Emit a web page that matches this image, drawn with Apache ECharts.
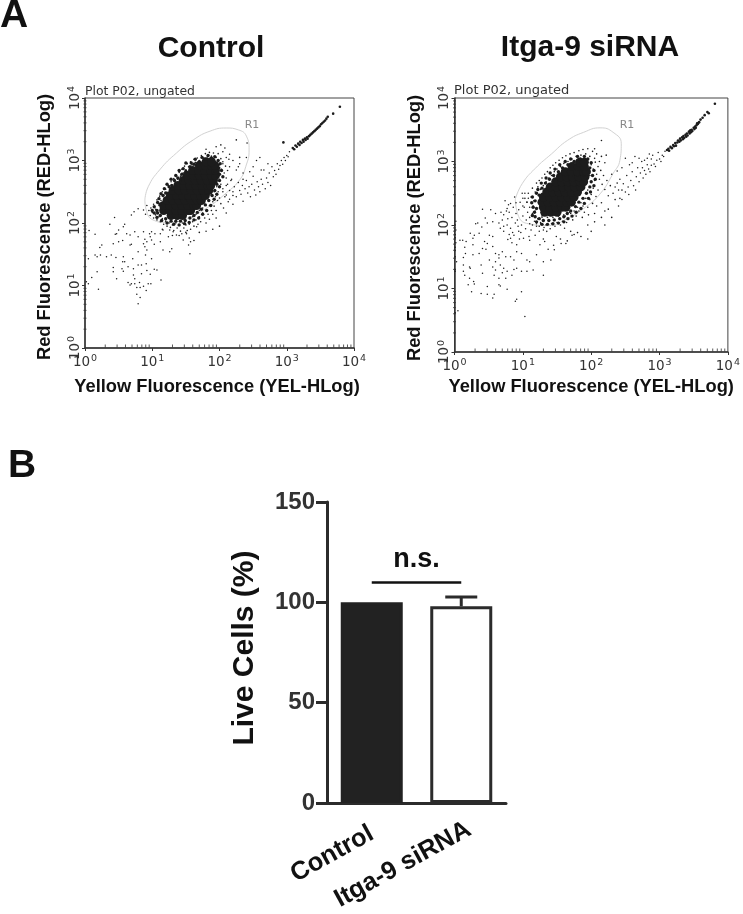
<!DOCTYPE html>
<html><head><meta charset="utf-8">
<style>html,body{margin:0;padding:0;background:#fff}#c{width:743px;height:914px}</style>
<script src="https://cdn.jsdelivr.net/npm/echarts@6/dist/echarts.min.js"></script>
</head><body><div id="c"></div>
<script>
const decades = [0, 1, 2, 3, 4];
const minorTicks = [2,3,4,5,6,7,8,9,20,30,40,50,60,70,80,90,200,300,400,500,600,700,800,900,2000,3000,4000,5000,6000,7000,8000,9000];

const controlGate = [[.89,2.37],[.94,2.58],[1.11,2.85],[1.36,3.12],[1.61,3.33],[1.86,3.47],[2.10,3.52],[2.28,3.49],[2.40,3.39],[2.44,3.17],[2.39,2.90],[2.30,2.69],[2.10,2.48],[1.81,2.24],[1.51,2.07],[1.21,2.01],[1.01,2.05],[.91,2.21],[.89,2.37]];
const sirnaGate = [[.89,2.41],[.99,2.65],[1.18,2.89],[1.42,3.12],[1.65,3.33],[1.89,3.46],[2.13,3.53],[2.32,3.46],[2.44,3.28],[2.42,3.02],[2.32,2.81],[2.13,2.49],[1.89,2.26],[1.65,2.10],[1.37,1.99],[1.08,2.02],[.94,2.13],[.89,2.41]];

// Dense centre of each population (too dense to separate single events)
const controlCore = [[1.28,2.12],[1.37,2.12],[1.45,2.12],[1.17,2.2],[1.26,2.2],[1.35,2.2],[1.44,2.2],[1.53,2.2],[1.57,2.2],[1.17,2.28],[1.26,2.28],[1.35,2.28],[1.44,2.28],[1.53,2.28],[1.62,2.28],[1.66,2.28],[1.22,2.36],[1.31,2.36],[1.4,2.36],[1.49,2.36],[1.58,2.36],[1.67,2.36],[1.73,2.36],[1.27,2.44],[1.36,2.44],[1.45,2.44],[1.54,2.44],[1.63,2.44],[1.72,2.44],[1.79,2.44],[1.31,2.52],[1.4,2.52],[1.49,2.52],[1.58,2.52],[1.67,2.52],[1.76,2.52],[1.84,2.52],[1.38,2.6],[1.47,2.6],[1.56,2.6],[1.65,2.6],[1.74,2.6],[1.83,2.6],[1.87,2.6],[1.46,2.68],[1.55,2.68],[1.64,2.68],[1.73,2.68],[1.82,2.68],[1.91,2.68],[1.52,2.76],[1.61,2.76],[1.7,2.76],[1.79,2.76],[1.88,2.76],[1.94,2.76],[1.6,2.84],[1.69,2.84],[1.78,2.84],[1.87,2.84],[1.94,2.84],[1.7,2.92],[1.79,2.92],[1.88,2.92],[1.93,2.92],[1.8,2.98],[1.88,2.98]];
const sirnaCore = [[1.32,2.2],[1.41,2.2],[1.5,2.2],[1.3,2.28],[1.39,2.28],[1.48,2.28],[1.57,2.28],[1.63,2.28],[1.28,2.36],[1.37,2.36],[1.46,2.36],[1.55,2.36],[1.64,2.36],[1.71,2.36],[1.3,2.44],[1.39,2.44],[1.48,2.44],[1.57,2.44],[1.66,2.44],[1.75,2.44],[1.35,2.52],[1.44,2.52],[1.53,2.52],[1.62,2.52],[1.71,2.52],[1.8,2.52],[1.4,2.6],[1.49,2.6],[1.58,2.6],[1.67,2.6],[1.76,2.6],[1.85,2.6],[1.48,2.68],[1.57,2.68],[1.66,2.68],[1.75,2.68],[1.84,2.68],[1.89,2.68],[1.55,2.76],[1.64,2.76],[1.73,2.76],[1.82,2.76],[1.91,2.76],[1.62,2.84],[1.71,2.84],[1.8,2.84],[1.89,2.84],[1.93,2.84],[1.72,2.92],[1.81,2.92],[1.9,2.92],[1.83,2.99],[1.9,2.99]];
// Crowded edge of the centre
const controlRim = [[1.07,2.2],[1.03,2.26],[1.08,2.33],[1.12,2.3],[1.1,2.39],[1.16,2.44],[1.13,2.47],[1.2,2.48],[1.18,2.55],[1.25,2.58],[1.22,2.62],[1.29,2.6],[1.28,2.7],[1.33,2.68],[1.35,2.76],[1.38,2.72],[1.4,2.84],[1.44,2.78],[1.46,2.87],[1.5,2.83],[1.5,2.96],[1.56,2.9],[1.58,2.96],[1.62,2.94],[1.64,3.02],[1.7,2.98],[1.74,3.05],[1.78,3.02],[1.83,3.08],[1.88,3.04],[1.93,3.06],[1.98,3.0],[2.01,2.95],[1.99,2.88],[2.03,2.84],[2.0,2.78],[2.05,2.74],[2.0,2.68],[1.96,2.62],[2.0,2.58],[1.93,2.52],[1.96,2.46],[1.89,2.44],[1.92,2.38],[1.84,2.36],[1.87,2.28],[1.79,2.29],[1.81,2.2],[1.73,2.22],[1.75,2.14],[1.67,2.17],[1.69,2.08],[1.62,2.12],[1.62,2.05],[1.56,2.08],[1.55,2.01],[1.49,2.04],[1.48,1.99],[1.42,2.03],[1.4,1.97],[1.35,2.03],[1.32,1.98],[1.28,2.03],[1.22,2.0],[1.2,2.07],[1.14,2.04],[1.12,2.12],[1.07,2.09],[1.08,2.16],[1.03,2.16],[1.0,2.2]];
const sirnaRim = [[1.17,2.2],[1.15,2.28],[1.2,2.26],[1.13,2.35],[1.18,2.38],[1.14,2.44],[1.2,2.5],[1.24,2.47],[1.22,2.56],[1.28,2.58],[1.27,2.66],[1.33,2.66],[1.34,2.74],[1.39,2.72],[1.4,2.82],[1.45,2.78],[1.47,2.88],[1.52,2.84],[1.54,2.95],[1.58,2.9],[1.62,3.0],[1.66,2.95],[1.7,3.04],[1.75,3.0],[1.8,3.08],[1.84,3.04],[1.9,3.08],[1.95,3.04],[2.0,2.98],[1.98,2.9],[2.04,2.86],[2.02,2.78],[2.06,2.72],[2.0,2.68],[2.04,2.62],[1.98,2.6],[1.99,2.52],[1.93,2.5],[1.96,2.42],[1.88,2.42],[1.9,2.34],[1.82,2.36],[1.85,2.26],[1.77,2.29],[1.78,2.2],[1.7,2.22],[1.72,2.14],[1.65,2.18],[1.66,2.1],[1.6,2.13],[1.6,2.05],[1.54,2.1],[1.52,2.03],[1.46,2.08],[1.44,2.02],[1.38,2.07],[1.36,2.01],[1.3,2.07],[1.28,2.01],[1.24,2.1],[1.2,2.05],[1.18,2.13],[1.14,2.15]];

// Single events around the centre, lower-left cloud, tail, diagonal
const controlFringe = [[.98,2.24],[1.02,2.3],[1.05,2.22],[1.07,2.37],[1.09,2.31],[1.11,2.43],[1.13,2.36],[1.15,2.5],[1.17,2.45],[1.2,2.54],[1.22,2.49],[1.24,2.6],[1.26,2.54],[1.28,2.66],[1.3,2.6],[1.32,2.71],[1.34,2.66],[1.36,2.76],[1.38,2.7],[1.4,2.81],[1.42,2.75],[1.44,2.86],[1.46,2.8],[1.48,2.91],[1.5,2.85],[1.52,2.95],[1.54,2.9],[1.57,2.98],[1.59,2.93],[1.62,3.02],[1.64,2.97],[1.67,3.04],[1.7,3.0],[1.73,3.08],[1.76,3.04],[1.79,3.11],[1.82,3.06],[1.85,3.13],[1.88,3.07],[1.91,3.12],[1.95,3.05],[1.98,3.11],[2.02,3.03],[2.05,3.14],[1.1,2.28],[1.18,2.39],[1.23,2.44],[1.3,2.53],[1.35,2.6],[1.43,2.68],[1.47,2.74],[1.53,2.82],[1.58,2.87],[1.65,2.92],[1.72,2.96],[1.8,3.03],[2.0,2.93],[2.03,2.86],[2.05,2.98],[2.07,2.8],[2.09,2.91],[2.1,2.72],[2.12,2.84],[2.14,3.02],[1.98,2.78],[2.0,2.7],[2.02,2.62],[1.96,2.58],[1.98,2.5],[1.94,2.42],[1.97,2.36],[1.9,2.34],[1.92,2.27],[1.85,2.28],[1.88,2.2],[1.8,2.2],[1.83,2.14],[1.75,2.16],[1.78,2.08],[1.7,2.1],[1.72,2.02],[1.65,2.05],[1.68,1.98],[1.6,2.02],[1.62,1.95],[1.55,1.98],[1.57,1.9],[1.5,1.97],[1.52,1.88],[1.45,2.0],[1.47,1.92],[1.4,1.96],[1.42,1.87],[1.35,2.0],[1.37,1.92],[1.3,1.97],[1.32,1.88],[1.25,2.0],[1.27,1.93],[1.2,2.03],[1.22,1.95],[1.15,2.07],[1.17,1.98],[1.1,2.1],[1.12,2.02],[1.05,2.13],[1.07,2.05],[1.0,2.17],[1.02,2.08],[.95,2.2],[.97,2.12],[.92,2.28],[.9,2.14],[2.05,2.5],[2.08,2.42],[2.1,2.6],[2.13,2.34],[2.15,2.52],[2.0,2.4],[2.02,2.31],[2.06,2.24],[2.1,2.16],[1.95,2.2],[1.9,2.14],[1.85,2.06],[1.8,2.0],[1.95,2.08],[2.17,2.68],[2.2,2.44],[2.2,2.3],[1.92,2.5],[1.94,2.66],[1.88,2.44],[1.84,2.36],[1.82,2.46],[1.78,2.3],[1.75,2.24],[1.7,2.2],[1.65,2.14],[1.6,2.1],[1.96,2.74],[1.92,2.82],[1.3,1.8],[1.4,1.8],[1.55,1.76],[1.62,1.72],[1.7,1.85],[1.9,1.9],[2.0,1.95],[1.5,1.85],[1.15,1.9],[2.25,3.33],[2.08,3.2],[1.95,3.22],[1.8,3.18],[2.02,3.25],[2.41,3.28],[2.15,3.1],[2.2,3.0],[2.3,3.05],[2.28,2.9],[2.35,2.7]];
const controlCloud = [[.44,2.09],[.69,2.13],[.73,2.18],[.79,2.23],[.87,2.21],[.37,1.98],[.59,1.98],[.57,1.94],[.15,1.82],[.06,1.88],[.45,1.82],[.50,1.89],[.47,1.83],[.62,1.83],[.67,1.81],[.74,1.86],[.87,1.86],[.96,1.83],[.22,1.61],[.25,1.65],[.42,1.67],[.50,1.70],[.56,1.72],[.69,1.66],[.67,1.65],[.89,1.74],[.97,1.78],[1.04,1.83],[.15,1.49],[.18,1.46],[.23,1.49],[.32,1.46],[.39,1.49],[.46,1.45],[.05,1.43],[.57,1.46],[.71,1.43],[.59,1.38],[.56,1.38],[.79,1.54],[.92,1.57],[.90,1.49],[.99,1.43],[1.16,1.57],[1.29,1.59],[1.26,1.54],[1.46,1.73],[1.57,1.70],[1.54,1.65],[1.56,1.51],[.42,1.29],[.42,1.22],[.55,1.27],[.57,1.23],[.64,1.30],[.72,1.27],[.79,1.33],[.84,1.33],[.91,1.35],[1.03,1.26],[1.07,1.25],[.18,1.22],[.10,1.13],[.47,1.11],[.74,1.11],[.72,1.17],[.84,1.19],[.92,1.24],[.97,1.18],[1.13,1.09],[.64,1.05],[.67,1.01],[.69,1.03],[.74,1.03],[.81,1.05],[.94,1.03],[.98,1.03],[.87,.99],[.20,.94],[.02,1.06],[.05,1.03],[.77,.97],[.82,.97],[.91,.92],[.77,.86],[.82,.81],[.79,.71],[1.80,1.87],[1.66,1.94],[1.51,1.83],[1.44,1.83],[1.24,1.78],[1.12,1.83],[1.16,1.89],[1.26,1.89],[1.36,1.81],[.99,1.73],[.87,1.67],[.89,1.62],[.92,1.70],[1.03,1.66],[1.12,1.70],[.79,1.78],[.99,1.86],[1.31,1.86]];
const controlTail = [[2.05,2.55],[2.1,2.45],[2.12,2.62],[2.15,2.38],[2.18,2.7],[2.2,2.5],[2.22,2.58],[2.25,2.42],[2.28,2.65],[2.3,2.52],[2.32,2.46],[2.34,2.6],[2.35,2.35],[2.38,2.55],[2.4,2.68],[2.42,2.48],[2.44,2.58],[2.46,2.42],[2.48,2.62],[2.5,2.75],[2.52,2.53],[2.54,2.45],[2.56,2.66],[2.58,2.58],[2.6,2.5],[2.62,2.7],[2.64,2.62],[2.66,2.85],[2.68,2.55],[2.7,2.72],[2.72,2.65],[2.74,2.8],[2.76,2.6],[2.78,2.9],[2.8,2.74],[2.82,2.84],[2.84,2.78],[2.86,2.95],[2.88,2.86],[2.9,2.92],[2.92,3.0],[2.94,2.94],[2.96,3.05],[2.98,3.0],[3.0,3.08],[3.02,3.06],[3.04,3.14],[2.5,2.9],[2.55,3.0],[2.62,2.85],[2.72,2.95],[2.6,3.05],[2.45,2.82],[2.35,2.8],[2.3,2.95],[2.25,2.85],[2.15,2.9],[2.4,3.05],[2.1,3.05],[2.05,2.95]];
const controlDiagonal = [[3.09,3.2],[3.11,3.18],[3.13,3.24],[3.15,3.22],[3.17,3.27],[3.19,3.25],[3.2,3.3],[3.22,3.28],[3.24,3.33],[3.25,3.3],[3.27,3.35],[3.28,3.33],[3.3,3.37],[3.31,3.35],[3.33,3.39],[3.35,3.41],[3.37,3.43],[3.39,3.45],[3.41,3.47],[3.43,3.49],[3.45,3.51],[3.47,3.53],[3.49,3.55],[3.51,3.58],[3.53,3.6],[3.55,3.62],[3.57,3.64],[3.59,3.67],[3.61,3.7],[3.69,3.75],[3.79,3.86],[2.95,3.29]];

const sirnaFringe = [[1.0,2.3],[1.03,2.42],[1.06,2.36],[1.08,2.5],[1.1,2.28],[1.12,2.44],[1.14,2.58],[1.16,2.38],[1.18,2.52],[1.2,2.66],[1.22,2.6],[1.24,2.7],[1.26,2.56],[1.28,2.74],[1.3,2.62],[1.32,2.8],[1.34,2.68],[1.36,2.84],[1.38,2.74],[1.4,2.9],[1.42,2.78],[1.44,2.94],[1.46,2.84],[1.48,2.98],[1.5,2.88],[1.53,3.02],[1.55,2.92],[1.58,3.06],[1.6,2.97],[1.63,3.09],[1.66,3.0],[1.69,3.12],[1.72,3.04],[1.75,3.14],[1.78,3.08],[1.82,3.17],[1.85,3.1],[1.88,3.19],[1.92,3.12],[1.95,3.2],[1.98,3.08],[2.02,3.16],[2.05,3.05],[2.08,3.12],[2.12,3.0],[2.15,3.08],[2.2,2.98],[2.22,3.1],[2.0,2.95],[2.03,2.88],[2.06,2.99],[2.08,2.8],[2.1,2.92],[2.12,2.72],[2.14,2.86],[2.16,2.64],[2.18,2.78],[2.2,2.56],[2.23,2.7],[2.25,2.46],[2.28,2.62],[2.3,2.8],[2.32,2.5],[2.35,2.4],[2.38,2.66],[2.4,2.3],[1.98,2.78],[2.0,2.68],[2.03,2.58],[2.05,2.7],[2.0,2.48],[2.07,2.45],[2.1,2.55],[1.95,2.55],[1.98,2.4],[2.02,2.34],[2.08,2.3],[2.15,2.35],[2.2,2.22],[1.92,2.42],[1.95,2.28],[1.9,2.2],[1.96,2.16],[2.05,2.18],[1.88,2.3],[1.85,2.35],[1.82,2.22],[1.87,2.12],[1.78,2.14],[1.8,2.28],[1.75,2.22],[1.7,2.18],[1.73,2.08],[1.66,2.1],[1.68,2.2],[1.62,2.14],[1.64,2.04],[1.58,2.06],[1.6,2.16],[1.54,2.1],[1.55,2.0],[1.5,2.04],[1.52,2.14],[1.46,2.07],[1.47,1.98],[1.42,2.02],[1.44,2.12],[1.38,2.06],[1.4,1.94],[1.34,2.0],[1.36,2.12],[1.3,2.06],[1.31,1.96],[1.26,2.04],[1.28,2.14],[1.22,2.1],[1.24,1.98],[1.18,2.14],[1.2,2.02],[1.14,2.18],[1.16,2.28],[1.1,2.12],[1.8,1.88],[1.85,1.82],[1.95,1.78],[1.75,1.85],[1.65,1.75],[1.7,1.9],[1.55,1.78],[1.45,1.68],[1.35,1.9],[1.3,1.78],[1.95,2.0],[2.05,2.05],[2.0,1.9],[2.2,2.0],[2.15,2.12],[2.3,2.12],[2.25,2.25],[2.42,2.42],[2.45,2.55],[2.15,3.33],[2.05,3.2]];
const sirnaCloud = [[.08,1.76],[.12,1.76],[.15,1.65],[.23,1.87],[.17,1.74],[.27,1.69],[.31,2.02],[.34,2.03],[.41,2.25],[.53,2.24],[.45,2.11],[.48,2.03],[.56,2.05],[.60,2.18],[.40,1.97],[.36,1.87],[.29,1.84],[.27,1.79],[.44,1.74],[.48,1.71],[.51,1.84],[.56,1.82],[.65,2.03],[.70,2.08],[.72,2.16],[.77,2.26],[.79,2.32],[.67,1.95],[.72,1.90],[.77,2.00],[.82,1.95],[.89,2.03],[.94,1.90],[.87,1.84],[.82,1.79],[.78,1.77],[.84,1.72],[.91,1.69],[1.01,1.79],[1.10,1.76],[1.18,1.84],[1.32,1.74],[1.37,1.62],[1.25,1.69],[1.20,1.53],[.56,1.66],[.41,1.63],[.46,1.62],[.36,1.55],[.27,1.53],[.60,1.55],[.65,1.53],[.70,1.58],[.75,1.50],[.82,1.50],[.91,1.58],[.98,1.55],[1.06,1.45],[1.10,1.42],[.87,1.45],[.13,1.49],[.13,1.37],[.03,1.42],[.01,1.27],[.16,1.55],[.39,1.37],[.51,1.45],[.60,1.42],[.65,1.48],[.56,1.34],[.60,1.29],[.67,1.37],[.72,1.32],[.77,1.27],[.87,1.30],[.91,1.32],[.98,1.27],[1.06,1.27],[1.15,1.29],[1.30,1.21],[1.30,1.42],[1.41,1.45],[.13,1.27],[.15,1.21],[.22,1.34],[.23,1.32],[.41,1.24],[.58,1.21],[.65,1.16],[.70,1.25],[.84,1.21],[.75,1.16],[.65,1.06],[.67,1.04],[.48,1.03],[.28,1.11],[.29,1.07],[.20,1.06],[.22,1.16],[.25,.95],[.39,.92],[.48,.91],[.58,.91],[.56,.85],[.77,.99],[.98,.95],[.91,.83],[.89,.80],[.05,.65],[.01,.62],[1.03,.56],[1.46,1.61],[1.56,1.71],[1.63,1.71],[1.72,1.84],[1.61,1.95],[1.49,1.82],[.01,1.5],[.01,1.6],[.02,1.72],[.01,1.8],[.01,1.85],[.02,1.92],[.01,2.0],[.02,2.06],[.01,1.65],[.01,1.3],[.74,2.38],[.8,2.2],[.84,2.12],[.86,2.28],[.9,2.18],[.92,2.08],[.94,2.24],[.96,2.36],[.98,2.0],[1.0,2.14],[1.02,2.28],[1.04,1.94],[1.05,2.08],[1.07,2.2],[1.08,2.42],[1.1,2.02],[1.12,1.92],[1.13,2.14],[1.15,2.3],[1.17,2.06],[1.18,2.22],[1.2,1.98],[1.22,2.1],[.78,2.1],[.82,2.34],[.88,2.44],[.93,1.98],[.97,1.88],[1.0,2.42],[1.03,2.5],[1.06,2.36],[.99,2.5],[.9,2.35],[.95,1.78],[.85,1.88],[.8,1.85],[.72,1.98],[.68,2.2],[.76,2.22],[1.09,1.82],[1.14,2.0],[1.24,1.9],[1.26,2.02],[1.28,2.12],[1.3,1.92]];
const sirnaTail = [[2.35,2.6],[2.38,2.85],[2.4,2.55],[2.42,2.72],[2.45,2.9],[2.47,2.65],[2.5,2.52],[2.52,2.78],[2.54,2.6],[2.56,2.95],[2.58,2.7],[2.6,2.84],[2.62,2.62],[2.64,3.08],[2.66,2.76],[2.68,2.9],[2.7,2.68],[2.72,2.82],[2.74,3.0],[2.76,2.74],[2.78,2.86],[2.8,2.8],[2.82,3.05],[2.84,2.88],[2.86,2.84],[2.88,2.94],[2.9,3.1],[2.92,2.96],[2.94,2.92],[2.96,3.02],[2.98,3.14],[3.0,3.04],[3.02,3.0],[3.04,3.1],[3.06,3.08],[3.08,3.16],[2.78,3.02],[2.85,3.12],[2.7,3.05],[2.6,2.98],[2.5,3.05],[2.75,2.9],[2.82,2.95],[2.88,3.04],[2.55,2.48],[2.65,2.55],[2.45,2.4]];
const sirnaDiagonal = [[3.11,3.18],[3.13,3.2],[3.14,3.17],[3.16,3.23],[3.18,3.21],[3.2,3.26],[3.21,3.24],[3.23,3.29],[3.24,3.25],[3.26,3.3],[3.27,3.33],[3.29,3.31],[3.3,3.36],[3.31,3.33],[3.33,3.38],[3.34,3.35],[3.35,3.4],[3.36,3.37],[3.38,3.42],[3.39,3.39],[3.4,3.44],[3.41,3.41],[3.43,3.47],[3.44,3.44],[3.45,3.49],[3.46,3.46],[3.47,3.5],[3.48,3.48],[3.5,3.53],[3.51,3.51],[3.52,3.55],[3.53,3.53],[3.54,3.57],[3.55,3.6],[3.56,3.59],[3.57,3.61],[3.58,3.62],[3.6,3.66],[3.63,3.69],[3.66,3.73],[3.7,3.78],[3.72,3.76],[3.81,3.91]];

// Bar panel
const barCategories = ['Control', 'Itga-9 siRNA'];
const liveCells = [100, 98];
const liveCellsError = [0, 4.7];
const significanceLevel = 110;

const ink = '#1c1c1c', wide = 'DejaVu Sans', sans = 'Liberation Sans';
const unlog = a => a.map(p => [Math.pow(10, p[0]), Math.pow(10, p[1])]);

function logAxis(index, rotate, name, gap, padding) {
  return {
    type: 'log', logBase: 10, min: 1, max: 10000, gridIndex: index,
    name, nameLocation: 'middle', nameGap: gap,
    nameTextStyle: { fontFamily: sans, fontWeight: 'bold', fontSize: 18.3, color: '#111', padding },
    axisLine: { show: true, onZero: false, lineStyle: { color: '#333', width: 1.5 } },
    axisTick: { show: true, length: 3, lineStyle: { color: '#333' } },
    splitLine: { show: false }, minorSplitLine: { show: false },
    axisLabel: {
      show: true, rotate, margin: rotate ? 2 : 6, showMinLabel: true, showMaxLabel: true, hideOverlap: false,
      formatter: v => '{b|10}{s|' + decades[Math.round(Math.log10(v))] + '}',
      rich: {
        b: { fontFamily: wide, fontSize: 13.5, color: '#333' },
        s: { fontFamily: wide, fontSize: 9.5, color: '#333', padding: [0, 0, 6, 1] }
      }
    }
  };
}
function dots(i, data, size, name) {
  return { type: 'scatter', name, xAxisIndex: i, yAxisIndex: i, data: unlog(data), symbolSize: size,
    itemStyle: { color: ink, opacity: 1 }, silent: true, z: 3 };
}
function plot(i, gate, core, rim, fringe, cloud, tail, diag) {
  return [
    { type: 'line', name: 'R1', xAxisIndex: i, yAxisIndex: i, data: unlog(gate), smooth: 0.5, symbol: 'none',
      lineStyle: { color: '#d2d2d2', width: 1 }, silent: true, z: 2 },
    dots(i, core, 9, 'core'), dots(i, rim, 3.4, 'rim'), dots(i, fringe, 1.6, 'fringe'), dots(i, cloud, 1.5, 'cloud'),
    dots(i, tail, 1.5, 'tail'), dots(i, diag, 2.6, 'diagonal'),
    { type: 'scatter', xAxisIndex: i, yAxisIndex: i, data: minorTicks.map(v => [v, 1]), symbol: 'rect',
      symbolSize: [1, 3], symbolOffset: [0, -2], itemStyle: { color: '#333' }, silent: true, z: 4 },
    { type: 'scatter', xAxisIndex: i, yAxisIndex: i, data: minorTicks.map(v => [1, v]), symbol: 'rect',
      symbolSize: [3, 1], symbolOffset: [0, 0], itemStyle: { color: '#333' }, silent: true, z: 4 }
  ];
}
const txt = (x, y, text, font, fill, align) => ({ type: 'text', x, y, silent: true,
  style: { text, font, fill: fill || '#111', align: align || 'center', verticalAlign: 'middle' } });

const chart = echarts.init(document.getElementById('c'), null, { renderer: 'canvas' });
chart.setOption({
  animation: false, backgroundColor: '#fff',
  grid: [
    { left: 85, top: 98, width: 269, height: 250, show: true, borderColor: '#444', borderWidth: 1, backgroundColor: '#fff' },
    { left: 454.5, top: 98, width: 279.5, height: 254, show: true, borderColor: '#444', borderWidth: 1, backgroundColor: '#fff' },
    { left: 327, top: 502, width: 179, height: 302 }
  ],
  xAxis: [
    logAxis(0, 0, 'Yellow Fluorescence (YEL-HLog)', 30, [0, 5, 0, 0]),
    logAxis(1, 0, 'Yellow Fluorescence (YEL-HLog)', 26),
    { type: 'category', gridIndex: 2, data: barCategories,
      axisLine: { lineStyle: { color: '#2b2b2b', width: 3 } },
      axisTick: { alignWithLabel: true, length: 11, lineStyle: { color: '#2b2b2b', width: 3 } },
      axisLabel: { rotate: 29, interval: 0, margin: 29, fontFamily: sans, fontWeight: 'bold', fontSize: 25.5, color: '#111',
        formatter: (v, i) => i === 1 ? '{far|' + v + '}' : v,
        rich: { far: { fontFamily: sans, fontWeight: 'bold', fontSize: 25.5, color: '#111', padding: [0, -9, 0, 0] } } } }
  ],
  yAxis: [
    logAxis(0, 90, 'Red Fluorescence (RED-HLog)', 31, [0, 8, 0, 0]),
    logAxis(1, 90, 'Red Fluorescence (RED-HLog)', 31, [0, 6, 0, 0]),
    { type: 'value', gridIndex: 2, min: 0, max: 150, interval: 50,
      name: 'Live Cells (%)', nameLocation: 'middle', nameGap: 67,
      nameTextStyle: { fontFamily: sans, fontWeight: 'bold', fontSize: 30, color: '#111', padding: [0, 0, 0, 9] },
      axisLine: { show: true, lineStyle: { color: '#2b2b2b', width: 3 } },
      axisTick: { show: true, length: 11, lineStyle: { color: '#2b2b2b', width: 3 } },
      splitLine: { show: false },
      axisLabel: { margin: 12, fontFamily: sans, fontWeight: 'bold', fontSize: 24, color: '#333' } }
  ],
  series: [
    ...plot(0, controlGate, controlCore, controlRim, controlFringe, controlCloud, controlTail, controlDiagonal),
    ...plot(1, sirnaGate, sirnaCore, sirnaRim, sirnaFringe, sirnaCloud, sirnaTail, sirnaDiagonal),
    { type: 'bar', name: 'Live Cells', xAxisIndex: 2, yAxisIndex: 2, barWidth: 62,
      data: liveCells.map((v, i) => ({ value: v, itemStyle: i === 0
        ? { color: '#222', borderColor: '#222', borderWidth: 3 }
        : { color: '#fff', borderColor: '#2b2b2b', borderWidth: 3 } })),
      silent: true,
      markLine: { silent: true, symbol: 'none',
        lineStyle: { color: '#111', width: 2.5, type: 'solid' },
        label: { show: true, formatter: 'n.s.', position: 'middle', distance: 9,
          fontFamily: sans, fontWeight: 'bold', fontSize: 27, color: '#111' },
        data: [[{ xAxis: 0, yAxis: significanceLevel }, { xAxis: 1, yAxis: significanceLevel }]] } },
    { type: 'custom', name: 'SEM', xAxisIndex: 2, yAxisIndex: 2, silent: true, z: 5,
      data: liveCells.map((v, i) => [i, v, liveCellsError[i]]),
      renderItem(params, api) {
        const err = api.value(2);
        if (!err) return null;
        const base = api.coord([api.value(0), api.value(1)]);
        const top = api.coord([api.value(0), api.value(1) + err]);
        const st = { stroke: '#2b2b2b', lineWidth: 3, fill: 'none' };
        return { type: 'group', children: [
          { type: 'line', shape: { x1: base[0], y1: base[1], x2: top[0], y2: top[1] }, style: st },
          { type: 'line', shape: { x1: top[0] - 16, y1: top[1], x2: top[0] + 16, y2: top[1] }, style: st }
        ] };
      } }
  ],
  graphic: [
    txt(14, 16, 'A', 'bold 39px "Liberation Sans"'),
    txt(22, 466, 'B', 'bold 39px "Liberation Sans"'),
    txt(211, 49, 'Control', 'bold 30px "Liberation Sans"'),
    txt(590, 48, 'Itga-9 siRNA', 'bold 30px "Liberation Sans"'),
    txt(85, 92, 'Plot P02, ungated', '12.4px "DejaVu Sans"', '#333', 'left'),
    txt(454, 91, 'Plot P02, ungated', '13px "DejaVu Sans"', '#333', 'left'),
    txt(252, 125, 'R1', '11px "DejaVu Sans"', '#888'),
    txt(627, 125, 'R1', '11px "DejaVu Sans"', '#888')
  ]
});
</script></body></html>
